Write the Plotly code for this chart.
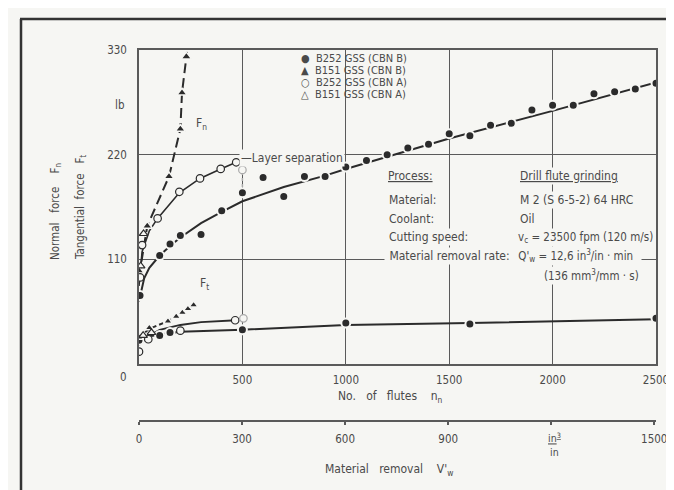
import plotly.graph_objects as go

# ---------------- data ----------------
# Normal force Fn
fn_b252_b_x = [5, 100, 150, 200, 300, 400, 500, 600, 700, 800, 900, 1000, 1100, 1200, 1300,
               1400, 1500, 1600, 1700, 1800, 1900, 2000, 2100, 2200, 2300, 2400, 2500]
fn_b252_b_y = [72, 114, 126, 135, 136, 161, 180, 196, 176, 197, 197, 207, 214, 220, 227,
               231, 242, 240, 251, 253, 267, 272, 272, 284, 286, 289, 295]
fn_b151_b_x = [0, 40, 145, 200, 208, 229]
fn_b151_b_y = [98, 145, 197, 247, 285, 323]
fn_b252_a_x = [5, 15, 90, 195, 295, 395, 470]
fn_b252_a_y = [91, 125, 153, 181, 195, 205, 212]
fn_b151_a_x = [8, 22]
fn_b151_a_y = [103, 137]

# Tangential force Ft
ft_b252_b_x = [0, 100, 150, 500, 1000, 1600, 2500]
ft_b252_b_y = [25, 30, 33, 36, 43, 42, 48]
ft_b151_b_x = [0, 50, 140, 180, 210, 237, 264]
ft_b151_b_y = [28, 38, 45, 50, 54, 58, 62]
ft_b252_a_x = [0, 45, 200, 465]
ft_b252_a_y = [13, 26, 35, 46]
ft_b151_a_x = [20, 60]
ft_b151_a_y = [30, 33]

# fitted curves drawn in the figure
fit_fn_b252_b_x = [0, 25, 50, 100, 150, 200, 300, 400, 500, 700, 900, 1000, 1500, 2000, 2500]
fit_fn_b252_b_y = [66, 90, 101, 114, 124, 133, 148, 160, 171, 186, 198, 205, 237, 266, 296]
fit_fn_b151_b_x = [0, 40, 145, 200, 208, 232]
fit_fn_b151_b_y = [92, 145, 197, 247, 285, 328]
fit_fn_b252_a_x = [0, 15, 50, 90, 195, 295, 395, 470]
fit_fn_b252_a_y = [82, 118, 140, 153, 180, 195, 205, 212]
fit_ft_b252_b_x = [0, 100, 200, 500, 1000, 1600, 2500]
fit_ft_b252_b_y = [27, 31, 34, 36, 41, 43, 47]
fit_ft_b252_a_x = [0, 50, 100, 200, 300, 470]
fit_ft_b252_a_y = [20, 30, 36, 41, 44, 46]
fit_ft_b151_b_x = [0, 50, 140, 180, 210, 237, 272]
fit_ft_b151_b_y = [28, 37, 45, 50, 54, 58, 64]

# layer separation (grey) marks
sep_x = [500, 505]
sep_y = [204, 48]
sep_line_x = [500, 500]
sep_line_y = [208, 182]

# axes
y_ticks = [110, 220, 330]
x_ticks = [500, 1000, 1500, 2000, 2500]
v_ticks = [0, 300, 600, 900, 1200, 1500]
v_ticktext = ["0", "300", "600", "900", "", "1500"]

legend_rows = ["●\u00a0\u00a0B252 GSS (CBN B)", "▲\u00a0\u00a0B151 GSS (CBN B)",
               "○\u00a0\u00a0B252 GSS (CBN A)", "△\u00a0\u00a0B151 GSS (CBN A)"]

# ---------------- styling ----------------
W, H = 674, 490
ML, MR, MT, MB = 131, 26, 42, 10
PW = W - ML - MR
PH = H - MT - MB
BG = "#f6f6f3"
INK = "#2b2b2b"
TXT = "#4a4a4a"
GRID = "#5a5a5a"
FONT = "Liberation Sans Narrow, DejaVu Sans Condensed, Arial Narrow, sans-serif"


def fx(px):
    return (px - ML) / PW


def fy(py):
    return (H - MB - py) / PH


fig = go.Figure()


def line(x, y, dash="solid", width=1.8, color=INK):
    fig.add_trace(go.Scatter(x=x, y=y, mode="lines", showlegend=False, hoverinfo="skip",
                             line=dict(color=color, width=width, dash=dash)))


def pts(x, y, symbol, size, fill, outline, lw):
    fig.add_trace(go.Scatter(x=x, y=y, mode="markers", showlegend=False,
                             marker=dict(symbol=symbol, size=size, color=fill,
                                         line=dict(color=outline, width=lw))))


# fitted curves
line(fit_fn_b252_b_x, fit_fn_b252_b_y, "solid", 2.0)
line(fit_fn_b151_b_x, fit_fn_b151_b_y, "10px,5px", 2.0)
line(fit_fn_b252_a_x, fit_fn_b252_a_y, "solid", 1.6)
line(fit_ft_b252_b_x, fit_ft_b252_b_y, "solid", 2.0)
line(fit_ft_b252_a_x, fit_ft_b252_a_y, "solid", 1.8)
line(fit_ft_b151_b_x, fit_ft_b151_b_y, "5px,3px", 2.0)
line(sep_line_x, sep_line_y, "dot", 1.5, "#aaaaaa")

# markers (bg outline gives the gaps in the lines)
pts(fn_b252_b_x, fn_b252_b_y, "circle", 9, INK, BG, 2)
pts(ft_b252_b_x, ft_b252_b_y, "circle", 9, INK, BG, 2)
pts(fn_b151_b_x, fn_b151_b_y, "triangle-up", 9, INK, BG, 1.5)
pts(ft_b151_b_x, ft_b151_b_y, "triangle-up", 8, INK, BG, 1.5)
pts(fn_b252_a_x, fn_b252_a_y, "circle", 7.5, BG, INK, 1.2)
pts(ft_b252_a_x, ft_b252_a_y, "circle", 7.5, BG, INK, 1.2)
pts(fn_b151_a_x, fn_b151_a_y, "triangle-up", 7.5, BG, INK, 1.2)
pts(ft_b151_a_x, ft_b151_a_y, "triangle-up", 7.5, BG, INK, 1.2)
pts(sep_x, sep_y, "circle", 7.5, BG, "#aaaaaa", 1.2)

# empty trace so that the second (material removal) axis is drawn
fig.add_trace(go.Scatter(x=[], y=[], xaxis="x2", yaxis="y", showlegend=False, hoverinfo="skip"))

ann = []


def text(px, py, s, size=11.5, xanchor="left", yanchor="middle", bg=None, angle=0, color=TXT):
    d = dict(x=fx(px), y=fy(py), xref="paper", yref="paper", text=s, showarrow=False,
             xanchor=xanchor, yanchor=yanchor, textangle=angle,
             font=dict(family=FONT, size=size, color=color))
    if bg:
        d["bgcolor"] = bg
    ann.append(d)


# legend block (one row per series)
for i, row in enumerate(legend_rows):
    text(291, 50 + 12 * i, row, size=11)

# curve labels
ann.append(dict(x=301, y=252, xref="x", yref="y", text="F<sub>n</sub>", showarrow=False,
                font=dict(family=FONT, size=12, color=TXT)))
ann.append(dict(x=318, y=84, xref="x", yref="y", text="F<sub>t</sub>", showarrow=False,
                font=dict(family=FONT, size=12, color=TXT)))
text(231, 150, "—Layer separation", size=12, bg=BG)

# process box
text(378, 168, "<u>Process:</u>", 12, bg=BG)
text(510, 168, "<u>Drill flute grinding</u>", 12, bg=BG)
text(379, 192, "Material:", 12, bg=BG)
text(510, 192, "M 2 (S 6-5-2) 64 HRC", 12, bg=BG)
text(379, 211, "Coolant:", 12, bg=BG)
text(510, 211, "Oil", 12, bg=BG)
text(379, 229, "Cutting speed:", 12, bg=BG)
text(508, 229, "v<sub>c</sub> = 23500 fpm (120 m/s)", 11.5, bg=BG)
text(376, 248, "\u00a0Material removal rate:\u00a0", 12, bg=BG)
text(505, 248, "\u00a0Q'<sub>w</sub> = 12,6 in<sup>3</sup>/in · min\u00a0\u00a0", 11.5, bg=BG)
text(534, 267, "(136 mm<sup>3</sup>/mm · s)", 11.5, bg=BG)

# axis extras
text(111, 97, "lb", 11.5, xanchor="center")
text(115, 369, "0", 11.5, xanchor="center")
text(546, 436, "<u>in<sup>3</sup></u><br>in", 10.5, xanchor="center")
text(382, 389, "No.\u00a0\u00a0 of\u00a0\u00a0 flutes\u00a0\u00a0\u00a0 n<sub>n</sub>", 12, xanchor="center")
text(381, 462, "Material\u00a0\u00a0 removal\u00a0\u00a0\u00a0 V'<sub>w</sub>", 12, xanchor="center")
text(47, 204, "Normal\u00a0\u00a0 force\u00a0\u00a0\u00a0 F<sub>n</sub>", 11.5, xanchor="center", angle=-90)
text(72, 200, "Tangential\u00a0 force\u00a0\u00a0 F<sub>t</sub>", 11.5, xanchor="center", angle=-90)

shapes = [
    # plain area behind the process table and the legend
    dict(type="rect", xref="paper", yref="paper", x0=fx(372), x1=fx(628), y0=fy(157), y1=fy(271),
         fillcolor=BG, line=dict(width=0), layer="between"),
    dict(type="rect", xref="paper", yref="paper", x0=fx(288), x1=fx(412), y0=fy(43), y1=fy(93),
         fillcolor=BG, line=dict(width=0), layer="between"),
    # outer frame of the figure
    dict(type="line", xref="paper", yref="paper", x0=fx(13), x1=fx(13), y0=fy(11), y1=fy(500),
         line=dict(color="#333333", width=2.5)),
    dict(type="line", xref="paper", yref="paper", x0=fx(12), x1=fx(674), y0=fy(11), y1=fy(11),
         line=dict(color="#333333", width=2.5)),
    dict(type="line", xref="paper", yref="paper", x0=fx(669), x1=fx(669), y0=fy(12), y1=fy(500),
         line=dict(color="#d0d0cc", width=1.5)),
]

axis_font = dict(family=FONT, size=11.5, color=TXT)

fig.update_layout(
    width=W, height=H,
    margin=dict(l=ML, r=MR, t=MT, b=MB),
    paper_bgcolor=BG, plot_bgcolor=BG,
    showlegend=False,
    annotations=ann,
    shapes=shapes,
    xaxis=dict(range=[0, 2500], tickvals=x_ticks, ticktext=[str(v) for v in x_ticks],
               showgrid=True, gridcolor=GRID, gridwidth=1, zeroline=False,
               showline=True, linecolor=GRID, linewidth=1.5, mirror=True,
               ticks="", tickfont=axis_font, ticklabelstandoff=4, anchor="y"),
    yaxis=dict(range=[0, 330], domain=[fy(356), 1], tickvals=y_ticks,
               ticktext=[str(v) for v in y_ticks],
               showgrid=True, gridcolor=GRID, gridwidth=1, zeroline=False,
               showline=True, linecolor=GRID, linewidth=1.5, mirror=True,
               ticks="", tickfont=axis_font, ticklabelstandoff=8),
    xaxis2=dict(range=[0, 1505], overlaying="x", anchor="free", position=fy(413), side="bottom",
                tickvals=v_ticks, ticktext=v_ticktext, showgrid=False, zeroline=False,
                showline=True, linecolor=GRID, linewidth=1.5,
                ticks="outside", ticklen=3, tickcolor=GRID, tickwidth=1.5,
                tickfont=axis_font, ticklabelstandoff=4),
)

fig.write_html("out.html")
